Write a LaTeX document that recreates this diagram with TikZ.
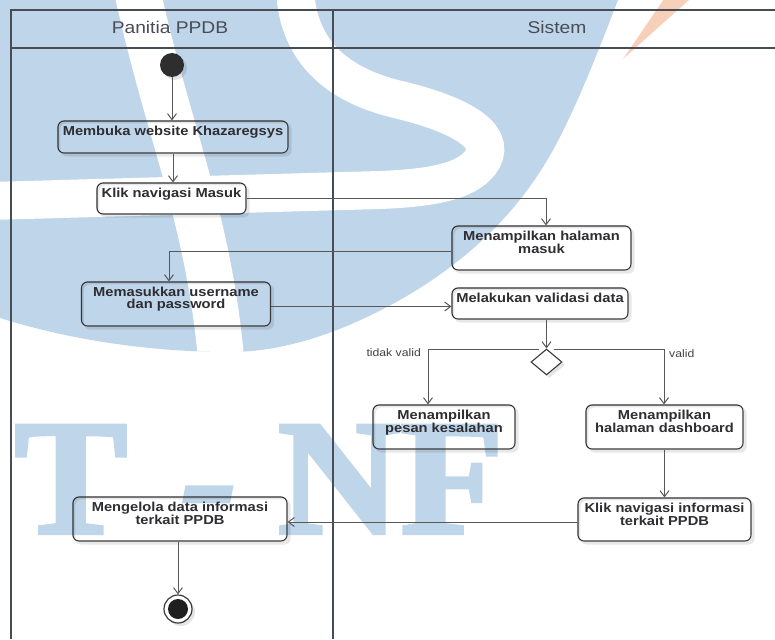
\documentclass[tikz,border=0pt]{standalone}
\usepackage{fontspec}
\setmainfont{Liberation Sans}
\newfontfamily\uifont[FakeStretch=1.13]{Liberation Sans}
\newfontfamily\wmfont[FakeStretch=1.03, FakeBold=2.5]{Liberation Serif}
\usetikzlibrary{arrows.meta,shapes.geometric,shadows}

\definecolor{wmblue}{RGB}{190,213,234}
\definecolor{wmorange}{RGB}{247,208,186}
\definecolor{lanecol}{RGB}{72,76,84}
\definecolor{edgecol}{RGB}{88,88,88}
\definecolor{boxcol}{RGB}{58,58,60}
\definecolor{txtcol}{RGB}{45,45,50}

\tikzset{
  act/.style={draw=boxcol, line width=1.1pt, rounded corners=6pt, inner sep=0pt},
  acttext/.style={font=\uifont\bfseries\fontsize{13}{12}\selectfont, text=txtcol,
    align=center, inner sep=0pt, anchor=north},
  lanetitle/.style={font=\uifont\fontsize{17}{17}\selectfont, text=lanecol, inner sep=0pt},
  guard/.style={font=\uifont\fontsize{10.8}{11}\selectfont, text=txtcol!90, inner sep=0pt},
  flow/.style={draw=edgecol, line width=1pt, -{Straight Barb[length=6pt,width=9pt]}},
  lane/.style={draw=lanecol, line width=1.3pt},
  softshadow/.style={drop shadow={shadow xshift=3pt, shadow yshift=-3pt, opacity=0.10, fill=black}},
  wmtext/.style={font=\wmfont\bfseries\fontsize{164}{164}\selectfont, text=wmblue, inner sep=0pt, anchor=base},
}

% shadow strip around an unfilled activity box: offset box minus the box itself
\newcommand\actshadow[1]{%
  \fill[black, opacity=0.09, even odd rule, rounded corners=6pt]
    ([shift={(3pt,-3pt)}]#1.south west) rectangle ([shift={(3pt,-3pt)}]#1.north east)
    (#1.south west) rectangle (#1.north east);}

\begin{document}
\begin{tikzpicture}[x=1pt, y=-1pt]
\useasboundingbox (0,0) rectangle (775,639);

% ---- background logo ----
\begin{scope}
  \clip (0,0) -- (618,0) .. controls (595,60) and (575,110) .. (553,150)
        .. controls (520,210) and (470,260) .. (400,300)
        .. controls (350,328) and (290,352) .. (230,352)
        .. controls (150,352) and (70,340) .. (0,318) -- cycle;
  \fill[wmblue] (0,0) rectangle (640,360);
  \draw[white, line width=46pt] (137,-10) .. controls (170,140) and (210,220) .. (222,370);
  \draw[white, line width=38pt] (295,-10) .. controls (298,50) and (335,85) .. (400,100)
        .. controls (470,117) and (498,140) .. (480,163)
        .. controls (465,182) and (430,188) .. (380,190) -- (-10,201);
\end{scope}
\fill[wmorange] (664,-1) -- (690,-1) -- (623,59) -- cycle;
\node[wmtext] (wmT) at (71,533) {T};
\node[wmtext, font=\wmfont\bfseries\itshape\fontsize{164}{164}\selectfont] (wmD) at (209,533) {-};
\node[wmtext] (wmN) at (339,533) {N};
\node[wmtext] (wmF) at (452,533) {F};

% ---- swimlanes ----
\draw[lane] (775,10) -- (11,10) -- (11,639);
\draw[lane] (11,48) -- (775,48);
\draw[lane] (333,10) -- (333,639);
\node[lanetitle] (laneA) at (170,27.5) {Panitia PPDB};
\node[lanetitle] (laneB) at (557,27.5) {Sistem};

% ---- activities ----
\node[circle, fill=black!82, minimum size=24pt, inner sep=0pt, softshadow] (init) at (172,65) {};

\node[act, minimum width=230pt, minimum height=32pt] (b1) at (173,137) {};
\node[acttext] (t1) at ([yshift=-5.5pt]b1.north) {Membuka website Khazaregsys};

\node[act, minimum width=149pt, minimum height=31pt] (b2) at (171.5,198.5) {};
\node[acttext] (t2) at ([yshift=-5.5pt]b2.north) {Klik navigasi Masuk};

\node[act, minimum width=179pt, minimum height=44pt] (b3) at (541.5,248) {};
\node[acttext] (t3) at ([yshift=-5.5pt]b3.north) {Menampilkan halaman\\masuk};

\node[act, minimum width=189pt, minimum height=44pt] (b4) at (176,304) {};
\node[acttext] (t4) at ([yshift=-5pt]b4.north) {Memasukkan username\\dan password};

\node[act, minimum width=176pt, minimum height=31pt] (b5) at (540,303.5) {};
\node[acttext] (t5) at ([yshift=-5.5pt]b5.north) {Melakukan validasi data};

\node[diamond, draw=boxcol, fill=white, line width=1.1pt, minimum width=31pt, minimum height=26pt,
  inner sep=0pt, softshadow] (dia) at (546.5,362) {};

\node[act, minimum width=142pt, minimum height=44pt] (b6) at (444,427) {};
\node[acttext] (t6) at ([yshift=-5.5pt]b6.north) {Menampilkan\\pesan kesalahan};

\node[act, minimum width=157pt, minimum height=44pt] (b7) at (664.5,427) {};
\node[acttext] (t7) at ([yshift=-5.5pt]b7.north) {Menampilkan\\halaman dashboard};

\node[act, minimum width=173pt, minimum height=43pt] (b8) at (664.5,519.5) {};
\node[acttext] (t8) at ([yshift=-5.5pt]b8.north) {Klik navigasi informasi\\terkait PPDB};

\node[act, minimum width=214pt, minimum height=44pt] (b9) at (180,519) {};
\node[acttext] (t9) at ([yshift=-5.5pt]b9.north) {Mengelola data informasi\\terkait PPDB};

\foreach \b in {b1,b2,b3,b4,b5,b6,b7,b8,b9} {\actshadow{\b}}

\node[circle, draw=boxcol, line width=1.2pt, fill=white, minimum size=28pt, inner sep=0pt, softshadow,
  path picture={\fill[black!88] (path picture bounding box.center) circle (10pt);}] (finish) at (178,609) {};

% ---- guards ----
\node[guard, anchor=east] (gno) at (421,352.5) {tidak valid};
\node[guard, anchor=west] (gyes) at (669,354) {valid};

% ---- control flow ----
\draw[flow] (init) -- (init |- b1.north);
\draw[flow] (b1.south) -- (b1.south |- b2.north);
\draw[flow] (b2.east) -| ([xshift=4.5pt]b3.north);
\draw[flow] ([yshift=-3pt]b3.west) -| ([xshift=-7pt]b4.north);
\draw[flow] ([yshift=-2.5pt]b4.east) -- ([yshift=-2.5pt]b4.east -| b5.west);
\draw[flow] (dia.north |- b5.south) -- (dia.north);
\draw[flow] ([xshift=-8pt,yshift=-1.5pt]dia.north) -| ([xshift=-16pt]b6.north);
\draw[flow] ([xshift=7pt,yshift=-1.5pt]dia.north) -| ([xshift=-0.5pt]b7.north);
\draw[flow] (b7.south) -- (b7.south |- b8.north);
\draw[flow] ([yshift=-2.5pt]b8.west) -- ([yshift=-2.5pt]b8.west -| b9.east);
\draw[flow] (finish |- b9.south) -- (finish);
\end{tikzpicture}
\end{document}
